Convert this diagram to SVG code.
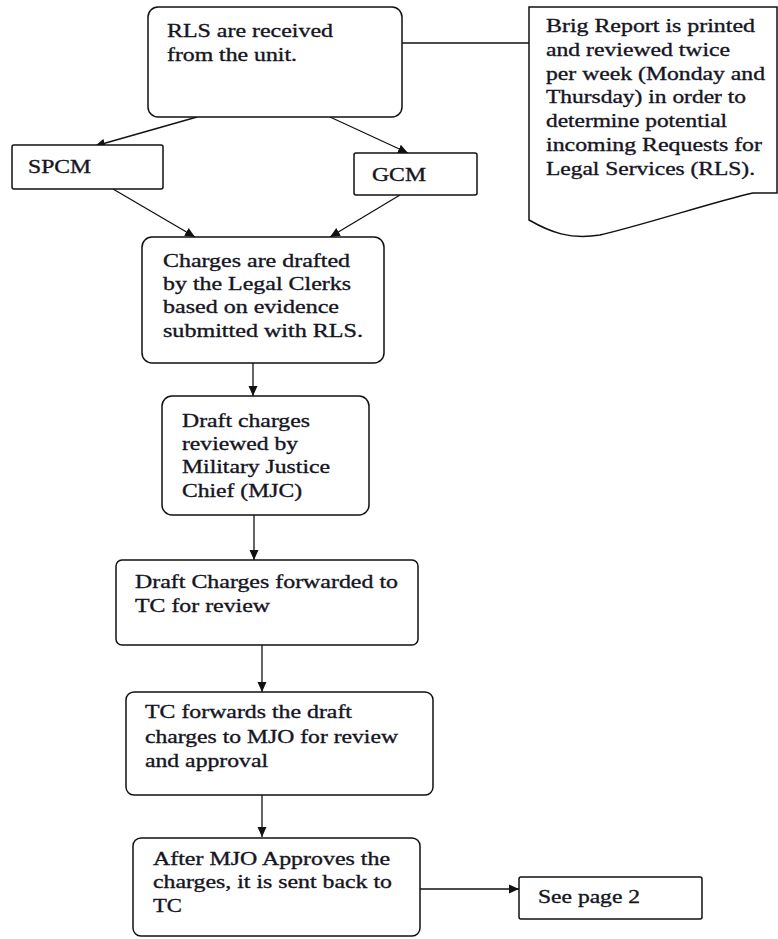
<svg xmlns="http://www.w3.org/2000/svg" width="778" height="939" viewBox="0 0 778 939">
<style>
.box{fill:#fff;stroke:#111;stroke-width:1.5}
.t{font-family:"Liberation Serif","Times New Roman",serif;font-size:19px;fill:#15151f;stroke:#15151f;stroke-width:0.35}
.c{fill:none;stroke:#111;stroke-width:1.3}
</style>
<defs>
<marker id="ah" markerUnits="userSpaceOnUse" markerWidth="10" markerHeight="10" refX="10" refY="5" orient="auto">
<path d="M0,0.5 L10,5 L0,9.5 z" fill="#111"/>
</marker>
</defs>
<rect width="778" height="939" fill="#fff"/>
<g id="connectors">
<line class="c" x1="402" y1="43" x2="529" y2="43"/>
<line class="c" x1="197" y1="117" x2="95" y2="146" marker-end="url(#ah)"/>
<line class="c" x1="330" y1="117" x2="408" y2="153" marker-end="url(#ah)"/>
<line class="c" x1="113" y1="189" x2="195" y2="237" marker-end="url(#ah)"/>
<line class="c" x1="400" y1="195" x2="330" y2="237" marker-end="url(#ah)"/>
<line class="c" x1="253" y1="363" x2="253" y2="396" marker-end="url(#ah)"/>
<line class="c" x1="254" y1="515" x2="254" y2="560" marker-end="url(#ah)"/>
<line class="c" x1="262" y1="645" x2="262" y2="692" marker-end="url(#ah)"/>
<line class="c" x1="262" y1="795" x2="262" y2="837" marker-end="url(#ah)"/>
<line class="c" x1="420" y1="889" x2="519" y2="889" marker-end="url(#ah)"/>
</g>
<g id="rls">
<rect class="box" x="148" y="7" width="254" height="110" rx="10"/>
<text class="t" transform="matrix(1.25 0 0 1 167 37)" textLength="132.8" lengthAdjust="spacingAndGlyphs">RLS are received</text>
<text class="t" transform="matrix(1.25 0 0 1 167 61)" textLength="104" lengthAdjust="spacingAndGlyphs">from the unit.</text>
</g>
<g id="brig">
<path class="box" d="M529,7 H777 V193 H753 C720,200 640,226 600,235 C570,240 550,232 529,220 Z"/>
<text class="t" transform="matrix(1.25 0 0 1 546 32)" textLength="167.2" lengthAdjust="spacingAndGlyphs">Brig Report is printed</text>
<text class="t" transform="matrix(1.25 0 0 1 546 56)" textLength="147.2" lengthAdjust="spacingAndGlyphs">and reviewed twice</text>
<text class="t" transform="matrix(1.25 0 0 1 546 80)" textLength="175.2" lengthAdjust="spacingAndGlyphs">per week (Monday and</text>
<text class="t" transform="matrix(1.25 0 0 1 546 103)" textLength="160" lengthAdjust="spacingAndGlyphs">Thursday) in order to</text>
<text class="t" transform="matrix(1.25 0 0 1 546 127)" textLength="144.8" lengthAdjust="spacingAndGlyphs">determine potential</text>
<text class="t" transform="matrix(1.25 0 0 1 546 151)" textLength="172.8" lengthAdjust="spacingAndGlyphs">incoming Requests for</text>
<text class="t" transform="matrix(1.25 0 0 1 546 175)" textLength="167.2" lengthAdjust="spacingAndGlyphs">Legal Services (RLS).</text>
</g>
<g id="spcm">
<rect class="box" x="12" y="145" width="151" height="44" rx="2"/>
<text class="t" transform="matrix(1.25 0 0 1 28 173)" textLength="50.4" lengthAdjust="spacingAndGlyphs">SPCM</text>
</g>
<g id="gcm">
<rect class="box" x="354" y="153" width="123" height="42" rx="2"/>
<text class="t" transform="matrix(1.25 0 0 1 372 181)" textLength="43.2" lengthAdjust="spacingAndGlyphs">GCM</text>
</g>
<g id="charges">
<rect class="box" x="142" y="237" width="242" height="126" rx="10"/>
<text class="t" transform="matrix(1.25 0 0 1 163 267)" textLength="149.6" lengthAdjust="spacingAndGlyphs">Charges are drafted</text>
<text class="t" transform="matrix(1.25 0 0 1 163 290)" textLength="150.4" lengthAdjust="spacingAndGlyphs">by the Legal Clerks</text>
<text class="t" transform="matrix(1.25 0 0 1 163 313)" textLength="140.8" lengthAdjust="spacingAndGlyphs">based on evidence</text>
<text class="t" transform="matrix(1.25 0 0 1 163 337)" textLength="160" lengthAdjust="spacingAndGlyphs">submitted with RLS.</text>
</g>
<g id="mjc">
<rect class="box" x="162" y="396" width="207" height="119" rx="10"/>
<text class="t" transform="matrix(1.25 0 0 1 182 427)" textLength="102.4" lengthAdjust="spacingAndGlyphs">Draft charges</text>
<text class="t" transform="matrix(1.25 0 0 1 182 450)" textLength="92.8" lengthAdjust="spacingAndGlyphs">reviewed by</text>
<text class="t" transform="matrix(1.25 0 0 1 182 473)" textLength="118.4" lengthAdjust="spacingAndGlyphs">Military Justice</text>
<text class="t" transform="matrix(1.25 0 0 1 182 497)" textLength="96" lengthAdjust="spacingAndGlyphs">Chief (MJC)</text>
</g>
<g id="tc">
<rect class="box" x="116" y="560" width="302" height="85" rx="6"/>
<text class="t" transform="matrix(1.25 0 0 1 135 588)" textLength="210.4" lengthAdjust="spacingAndGlyphs">Draft Charges forwarded to</text>
<text class="t" transform="matrix(1.25 0 0 1 135 612)" textLength="108" lengthAdjust="spacingAndGlyphs">TC for review</text>
</g>
<g id="mjo">
<rect class="box" x="126" y="692" width="307" height="103" rx="8"/>
<text class="t" transform="matrix(1.25 0 0 1 145 718)" textLength="165.6" lengthAdjust="spacingAndGlyphs">TC forwards the draft</text>
<text class="t" transform="matrix(1.25 0 0 1 145 743)" textLength="202.4" lengthAdjust="spacingAndGlyphs">charges to MJO for review</text>
<text class="t" transform="matrix(1.25 0 0 1 145 767)" textLength="98.4" lengthAdjust="spacingAndGlyphs">and approval</text>
</g>
<g id="approved">
<rect class="box" x="133" y="838" width="287" height="98" rx="8"/>
<text class="t" transform="matrix(1.25 0 0 1 153 865)" textLength="189.6" lengthAdjust="spacingAndGlyphs">After MJO Approves the</text>
<text class="t" transform="matrix(1.25 0 0 1 153 888)" textLength="191.2" lengthAdjust="spacingAndGlyphs">charges, it is sent back to</text>
<text class="t" transform="matrix(1.25 0 0 1 153 912)" textLength="23.2" lengthAdjust="spacingAndGlyphs">TC</text>
</g>
<g id="page2">
<rect class="box" x="519" y="877" width="183" height="42" rx="2"/>
<text class="t" transform="matrix(1.25 0 0 1 538 903)" textLength="81.6" lengthAdjust="spacingAndGlyphs">See page 2</text>
</g>
</svg>
